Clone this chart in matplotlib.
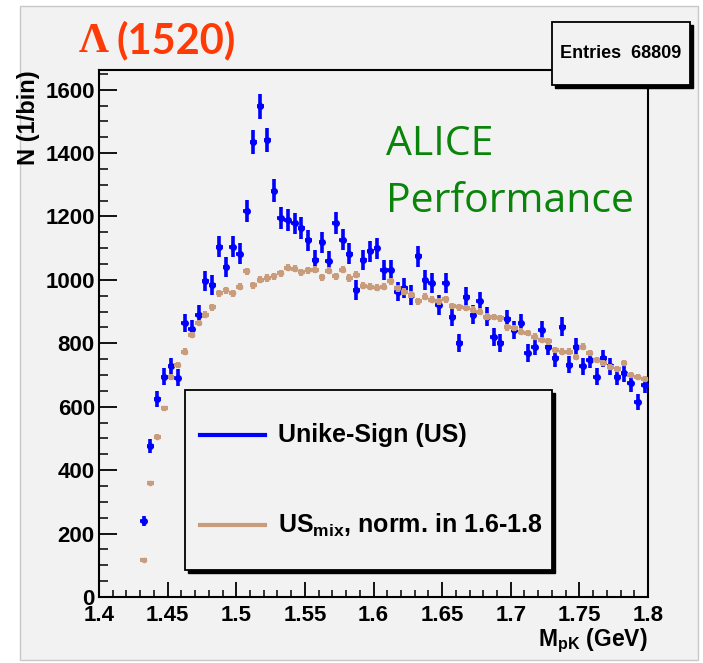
import numpy as np
import matplotlib.pyplot as plt
from matplotlib.patches import Rectangle
from matplotlib.lines import Line2D

plt.rcParams['font.family'] = 'Liberation Sans'
plt.rcParams['font.weight'] = 'bold'
plt.rcParams['mathtext.fontset'] = 'custom'
plt.rcParams['mathtext.rm'] = 'Liberation Sans:bold'
plt.rcParams['mathtext.it'] = 'Liberation Sans:bold'
plt.rcParams['mathtext.bf'] = 'Liberation Sans:bold'

# Massa invariante p-K (centros dos bins de 5 MeV)
massa_pk = np.round(np.arange(1.4325, 1.8, 0.005), 4)
meia_largura = 0.0025

# Contagens dos pares de sinal oposto (US)
contagens_us = [240, 476, 624, 695, 727, 692, 864, 845, 890, 995,
                985, 1105, 1040, 1105, 1082, 1218, 1435, 1547, 1442, 1281,
                1195, 1190, 1178, 1163, 1125, 1063, 1118, 1060, 1180, 1127,
                1082, 969, 1063, 1090, 1100, 1032, 1032, 963, 974, 953,
                1074, 1000, 990, 921, 990, 884, 800, 947, 890, 932,
                884, 821, 800, 876, 842, 864, 769, 790, 842, 790,
                753, 853, 732, 790, 727, 748, 695, 753, 727, 695,
                706, 674, 616, 669]

# Mistura de eventos, normalizada em 1.6-1.8
contagens_mix = [117, 359, 506, 595, 693, 732, 774, 827, 864, 890,
                 914, 958, 967, 958, 979, 1027, 983, 1000, 1006, 1011,
                 1021, 1038, 1035, 1024, 1031, 1032, 1008, 1029, 1011, 1032,
                 1006, 1016, 981, 979, 975, 979, 995, 974, 963, 953,
                 932, 947, 937, 932, 939, 918, 914, 911, 906, 900,
                 884, 883, 879, 850, 848, 837, 832, 821, 811, 806,
                 779, 774, 774, 758, 790, 769, 748, 737, 725, 718,
                 737, 700, 695, 687]

x_ticks = [1.4, 1.45, 1.5, 1.55, 1.6, 1.65, 1.7, 1.75, 1.8]
x_tick_labels = ['1.4', '1.45', '1.5', '1.55', '1.6', '1.65', '1.7', '1.75', '1.8']
y_ticks = [0, 200, 400, 600, 800, 1000, 1200, 1400, 1600]

azul = '#0000ff'
marrom = '#c99c7c'
cinza = '#f2f2f2'

W, H = 703, 663
fig = plt.figure(figsize=(W / 100, H / 100), dpi=100, facecolor='white')


def fx(x):
    return x / W


def fy(y):
    return 1 - y / H


def caixa(x0, y0, x1, y1, sombra=3, z=1):
    # caixa estilo ROOT com sombra preta
    fig.patches.append(Rectangle((fx(x0 + sombra), fy(y1 + sombra)), fx(x1 - x0), (y1 - y0) / H,
                                 transform=fig.transFigure, facecolor='black', edgecolor='black',
                                 zorder=z))
    fig.patches.append(Rectangle((fx(x0), fy(y1)), fx(x1 - x0), (y1 - y0) / H,
                                 transform=fig.transFigure, facecolor=cinza, edgecolor='black',
                                 lw=1.3, zorder=z + 0.1))


# fundo do pad
fig.patches.append(Rectangle((fx(20), fy(660)), fx(678), 654 / H, transform=fig.transFigure,
                             facecolor=cinza, edgecolor='#c8c8c8', lw=1, zorder=-5))

ax = fig.add_axes([fx(99), fy(597), fx(648 - 99), (597 - 70) / H])
ax.set_facecolor(cinza)

erro_us = np.sqrt(contagens_us)
erro_mix = 0.35 * np.sqrt(contagens_mix)

ax.errorbar(massa_pk, contagens_us, yerr=erro_us, xerr=meia_largura, fmt='o', ms=4,
            color=azul, elinewidth=2.6, capsize=0, zorder=3)
ax.errorbar(massa_pk, contagens_mix, yerr=erro_mix, xerr=meia_largura, fmt='o', ms=3,
            color=marrom, elinewidth=3, capsize=0, zorder=4)

ax.set_xlim(1.4, 1.8)
ax.set_ylim(0, 1662)
ax.set_xticks(x_ticks)
ax.set_xticklabels(x_tick_labels)
ax.set_yticks(y_ticks)
ax.set_xticks(np.arange(1.4, 1.8001, 0.01), minor=True)
ax.set_yticks(np.arange(0, 1662, 50), minor=True)
ax.tick_params(axis='x', which='major', direction='in', length=10.5, width=1.3,
               labelsize=16, pad=6, top=False)
ax.tick_params(axis='x', which='minor', direction='in', length=5, width=1.1, top=False)
ax.tick_params(axis='y', which='major', direction='in', length=13, width=1.3,
               labelsize=16, pad=3, right=False)
ax.tick_params(axis='y', which='minor', direction='in', length=6.5, width=1.1, right=False)
for s in ax.spines.values():
    s.set_linewidth(1.5)

# títulos dos eixos
fig.text(fx(648), fy(646), r'M$_{\rm pK}$ (GeV)', ha='right', va='baseline', fontsize=16.5)
fig.text(fx(28), fy(70), 'N (1/bin)', rotation=90, ha='center', va='top', fontsize=17)

# caixa de estatísticas
caixa(552, 22, 690, 85)
fig.text(fx(621), fy(53), 'Entries  68809', ha='center', va='center', fontsize=13, zorder=5)

# legenda
caixa(185, 390, 552, 570, sombra=3, z=5)
fig.lines.append(Line2D([fx(200), fx(265)], [fy(435), fy(435)], transform=fig.transFigure,
                        color=azul, lw=3, zorder=6))
fig.lines.append(Line2D([fx(200), fx(265)], [fy(525), fy(525)], transform=fig.transFigure,
                        color=marrom, lw=3, zorder=6))
fig.text(fx(278), fy(435), 'Unike-Sign (US)', ha='left', va='center', fontsize=18, zorder=6)
fig.text(fx(278), fy(525), r'US$_{\rm mix}$, norm. in 1.6-1.8', ha='left', va='center',
         fontsize=18, zorder=6)

# rótulos
fig.text(fx(79), fy(52), 'Λ', family='Liberation Serif', fontweight='bold', fontsize=30,
         color='#fe3a06', ha='left', va='baseline')
fig.text(fx(116), fy(53), '(1520)', family='Lato', fontweight='bold', fontsize=30,
         color='#fe3a06', ha='left', va='baseline')
fig.text(fx(386), fy(155), 'ALICE', family='Open Sans', fontweight='normal', fontsize=29.5,
         color='#0a840a', ha='left', va='baseline')
fig.text(fx(386), fy(212), 'Performance', family='Open Sans', fontweight='normal', fontsize=29.5,
         color='#0a840a', ha='left', va='baseline')

fig.savefig('out.png', dpi=100, facecolor='white')
